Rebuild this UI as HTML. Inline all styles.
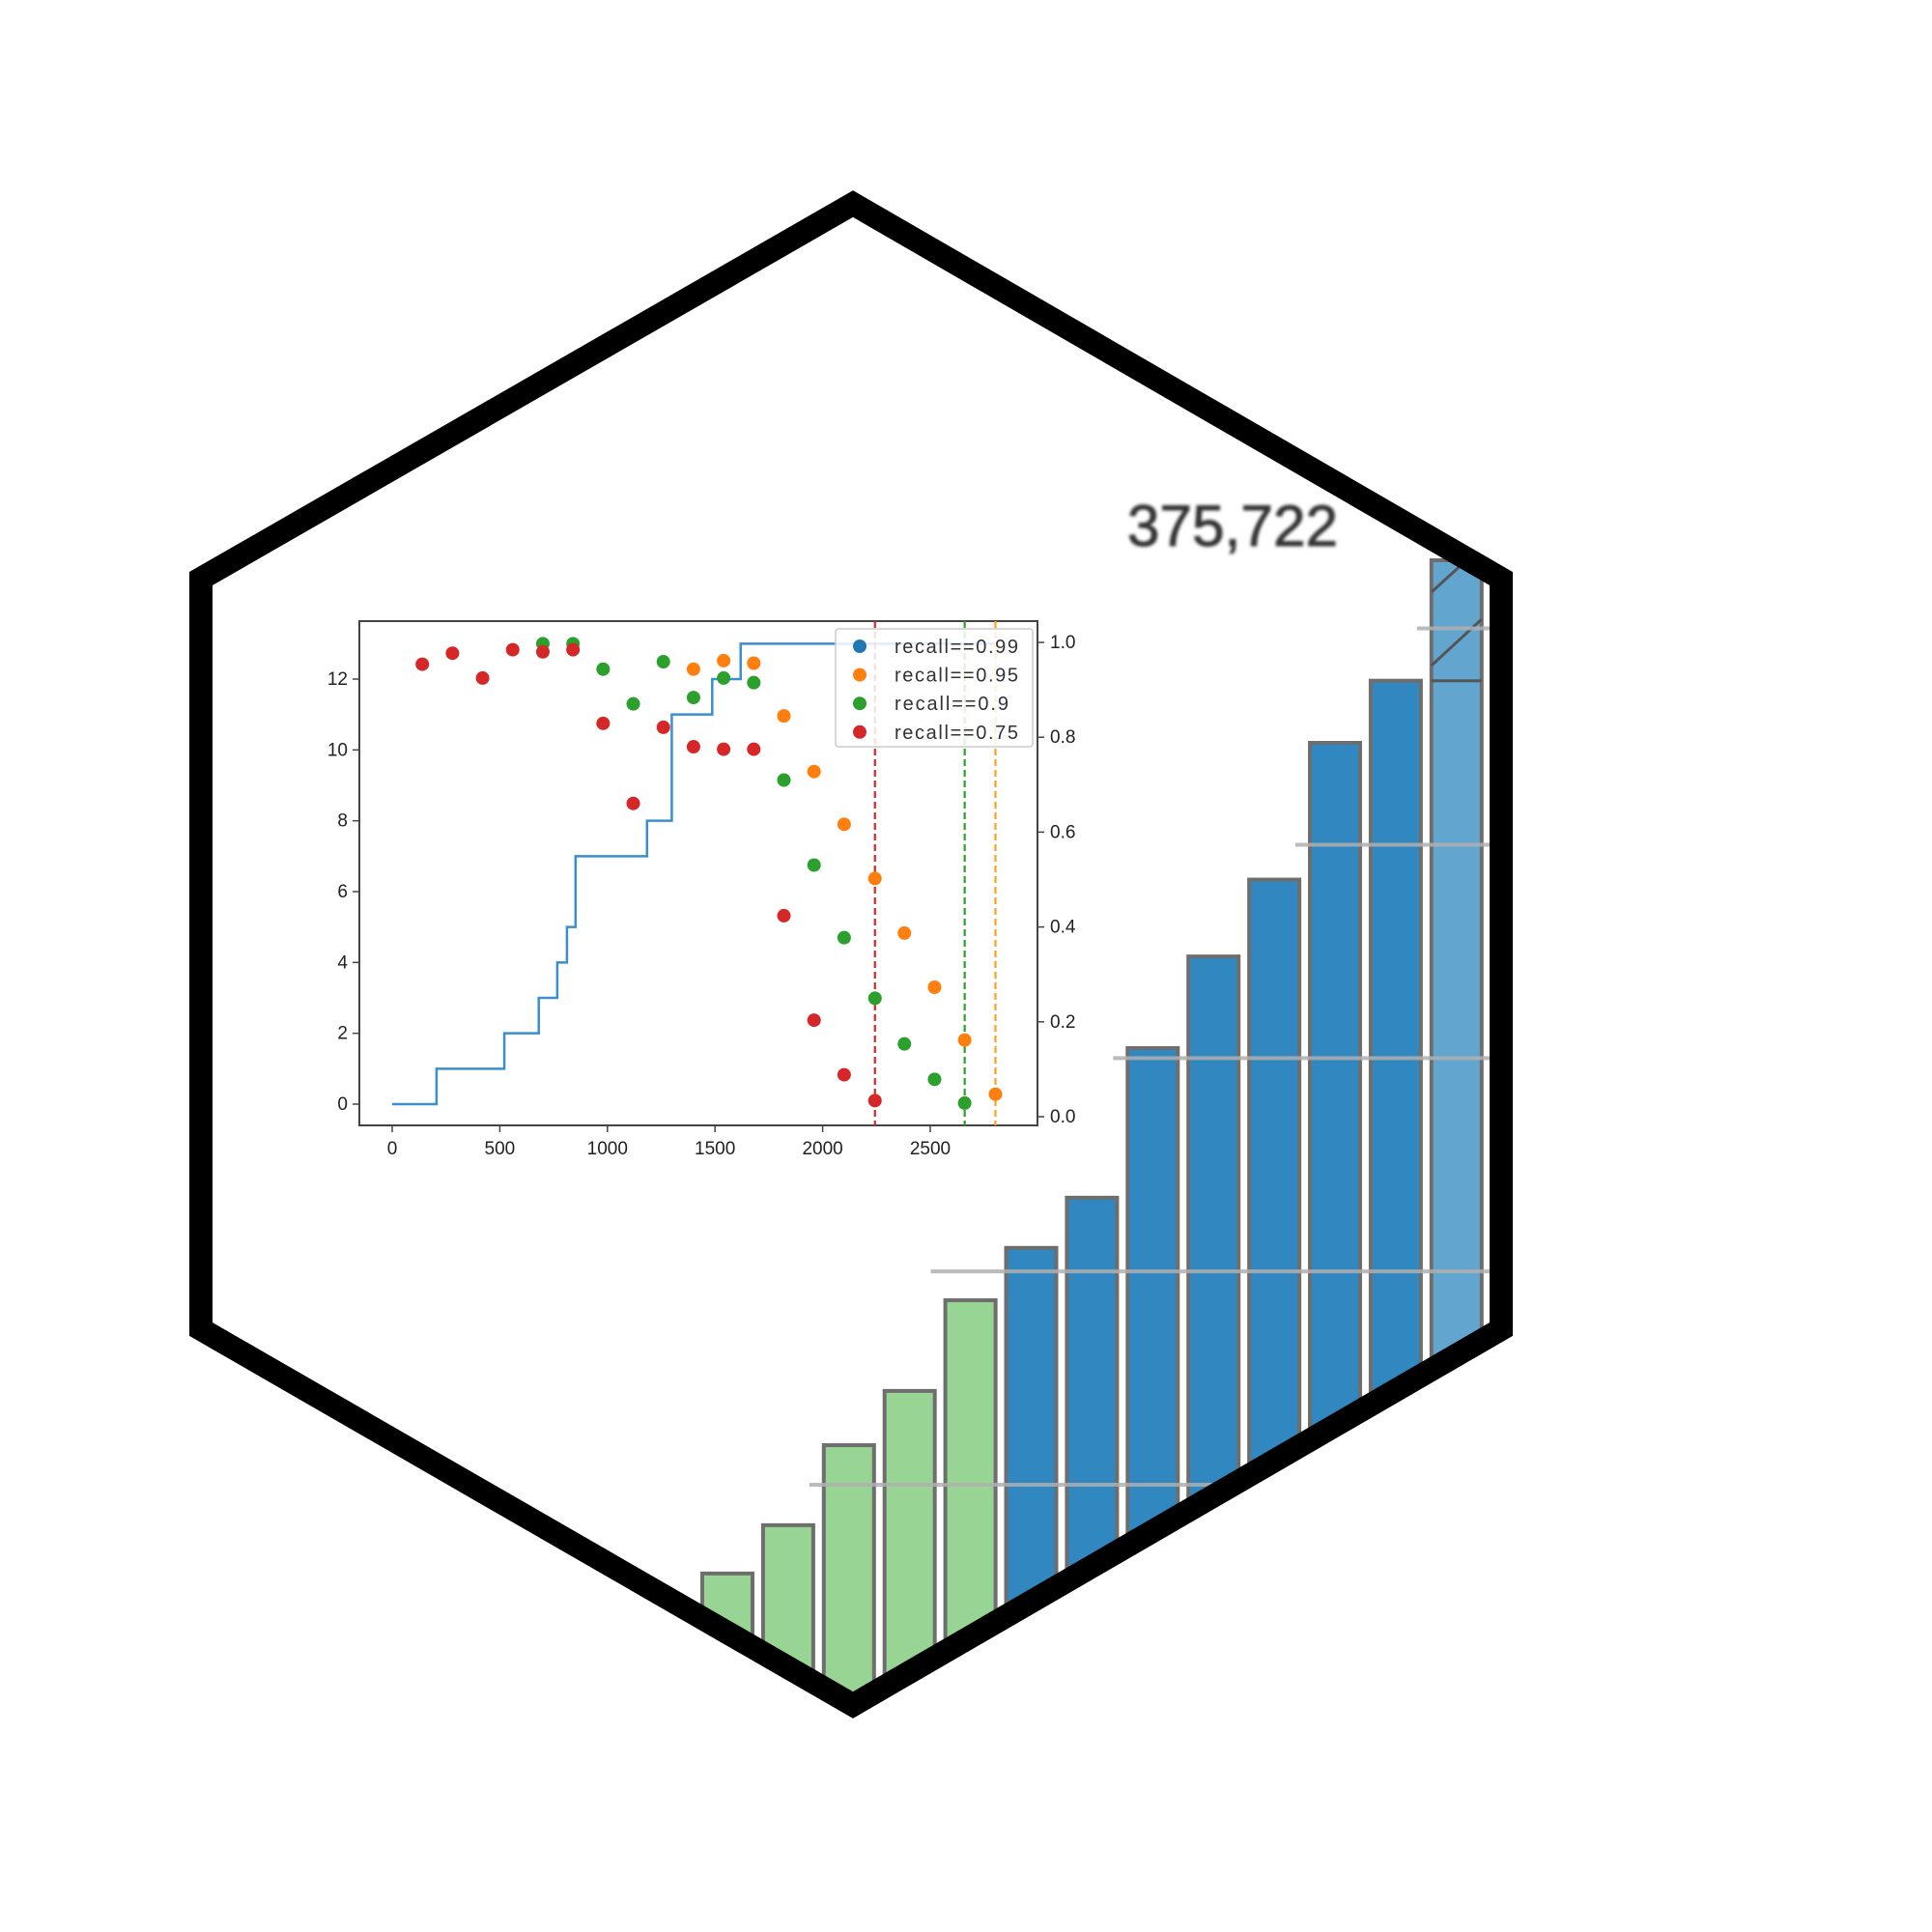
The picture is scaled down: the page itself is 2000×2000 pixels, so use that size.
<!DOCTYPE html>
<html><head><meta charset="utf-8"><style>
html,body{margin:0;padding:0;background:#fff;}
svg{display:block;}
text{font-family:"Liberation Sans","DejaVu Sans",sans-serif;}
</style></head>
<body>
<svg id="root" width="2000" height="2000" viewBox="0 0 2000 2000" xmlns="http://www.w3.org/2000/svg">
<defs>
<clipPath id="hexclip"><polygon points="883,211 1542,592 1542,1376 883,1765 208,1376 208,599"/></clipPath>
<filter id="blur1"><feGaussianBlur stdDeviation="1.5"/></filter>
</defs>
<g id="bars" clip-path="url(#hexclip)"></g>
<g id="inset"></g>
<text x="1167" y="565" font-size="60" fill="#333" stroke="#333" stroke-width="1" textLength="218" filter="url(#blur1)">375,722</text>
<polygon points="883,211 1554,599 1554,1376 883,1765 208,1376 208,599" fill="none" stroke="#000" stroke-width="24"/>
</svg>
<script>
// ---- bar chart data ----
const barValues = [52.7, 68.1, 93.6, 110.9, 139.8, 156.5, 172.5, 220.2, 249.4, 273.9, 317.5, 337.3, 375.7];
const barGroups = ['green','green','green','green','green','blue','blue','blue','blue','blue','blue','blue','light'];
const gridValues = [81, 149, 217, 285, 354];

// ---- inset chart data ----
const stepX = [0, 206, 521, 681, 767, 812, 852, 1184, 1299, 1487, 1619, 2800];
const stepY = [0, 1, 2, 3, 4, 5, 7, 8, 11, 12, 13, 13];
const redX = [140,280,420,560,700,840,980,1120,1260,1400,1540,1680,1820,1960,2100,2243];
const redY = [12.42,12.73,12.03,12.83,12.77,12.83,10.75,8.49,10.64,10.09,10.02,10.02,5.32,2.37,0.83,0.10];
const greenX = [700,840,980,1120,1260,1400,1540,1680,1820,1960,2100,2243,2380,2520,2660];
const greenY = [13.0,13.0,12.28,11.30,12.49,11.48,12.03,11.9,9.15,6.75,4.70,2.99,1.70,0.70,0.03];
const orangeX = [1400,1540,1680,1820,1960,2100,2243,2380,2520,2660,2803];
const orangeY = [12.28,12.52,12.45,10.96,9.39,7.90,6.37,4.83,3.30,1.81,0.28];
const vlineX = [2243, 2660, 2803];
const vlineColors = ['#d62728','#2ca02c','#ffa020'];
const xTicks = [0, 500, 1000, 1500, 2000, 2500];
const yTicks = [0, 2, 4, 6, 8, 10, 12];
const y2Ticks = [0.0, 0.2, 0.4, 0.6, 0.8, 1.0];
const legendLabels = ['recall==0.99','recall==0.95','recall==0.9','recall==0.75'];
const legendColors = ['#1f77b4','#ff7f0e','#2ca02c','#d62728'];

const NS = 'http://www.w3.org/2000/svg';
function mk(tag, attrs, parent){const e=document.createElementNS(NS,tag);for(const k in attrs)e.setAttribute(k,attrs[k]);parent.appendChild(e);return e;}

// ---- bars ----
const bars = document.getElementById('bars');
const bx = i => 727 + i*62.9;
const by = v => 1800 - v*(1220/375.7);
const fills = {green:'#98d594', blue:'#3187c0', light:'#62a5cf'};
barValues.forEach((v,i)=>{
  const r = mk('rect',{x:bx(i),y:by(v),width:52,height:1900-by(v),fill:fills[barGroups[i]],stroke:'#6e6e6e','stroke-width':4},bars);
  
  
});
// hatch on last bar
const li = barValues.length-1, lx = bx(li), ly = by(barValues[li]);
const h1 = mk('line',{x1:lx,y1:ly+33,x2:lx+33,y2:ly+3,stroke:'#555','stroke-width':3},bars);


const h2 = mk('line',{x1:lx,y1:ly+109,x2:lx+52,y2:ly+61,stroke:'#555','stroke-width':3},bars);


const h3 = mk('line',{x1:lx,y1:by(barValues[li-1]),x2:lx+52,y2:by(barValues[li-1]),stroke:'#555','stroke-width':3},bars);


// grid lines
gridValues.forEach((g,i)=>{
  const y = by(g);
  let x0 = 0;
  for(let j=0;j<barValues.length;j++){ if(barValues[j] >= g-10){ x0 = bx(j)-15; break; } }
  const l = mk('line',{x1:x0,y1:y,x2:1545,y2:y,stroke:'#b0b0b0','stroke-width':4,opacity:0.85},bars);
  
  
});

// ---- inset ----
const g = document.getElementById('inset');
const L=372,T=643,R=1074,B=1165;
const sx = v => 406 + v*(557/2500);
const sy = v => 1143 - v*(440/12);
const sy2 = v => 1156 - v*(1156-665);
const bg = mk('rect',{x:L,y:T,width:R-L,height:B-T,fill:'#fff',stroke:'#444','stroke-width':2},g);


xTicks.forEach(t=>{
  mk('line',{x1:sx(t),y1:B,x2:sx(t),y2:B+7,stroke:'#444','stroke-width':1.5},g);
  const tx = mk('text',{x:sx(t),y:B+30,'font-size':19,fill:'#222','text-anchor':'middle'},g);
  tx.textContent = t;
  
  
});
yTicks.forEach(t=>{
  mk('line',{x1:L-7,y1:sy(t),x2:L,y2:sy(t),stroke:'#444','stroke-width':1.5},g);
  const tx = mk('text',{x:L-12,y:sy(t)+6,'font-size':19,fill:'#222','text-anchor':'end'},g);
  tx.textContent = t;
  
  
});
y2Ticks.forEach(t=>{
  mk('line',{x1:R,y1:sy2(t),x2:R+7,y2:sy2(t),stroke:'#444','stroke-width':1.5},g);
  const tx = mk('text',{x:R+13,y:sy2(t)+6,'font-size':19,fill:'#222'},g);
  tx.textContent = t.toFixed(1);
  
  
});
let d = '';
stepX.forEach((x,i)=>{
  if(i===0) d += 'M'+sx(x)+','+sy(stepY[i]);
  else d += ' L'+sx(x)+','+sy(stepY[i-1])+' L'+sx(x)+','+sy(stepY[i]);
});
const step = mk('path',{d:d,fill:'none',stroke:'#3a8fd0','stroke-width':2.5},g);


vlineX.forEach((x,i)=>{
  const l = mk('line',{x1:sx(x),y1:T,x2:sx(x),y2:B,stroke:vlineColors[i],'stroke-width':2.2,'stroke-dasharray':'7,4'},g);
  
  
});
function scatter(xs, ys, color, name){
  xs.forEach((x,i)=>{
    const c = mk('circle',{cx:sx(x),cy:sy(ys[i]),r:7,fill:color},g);
    
    
  });
}
scatter(orangeX, orangeY, '#ff7f0e', 'point-recall-0.95');
scatter(greenX, greenY, '#2ca02c', 'point-recall-0.9');
scatter(redX, redY, '#d62728', 'point-recall-0.75');
const lg = mk('rect',{x:865,y:651,width:204,height:122,fill:'#fff','fill-opacity':0.85,stroke:'#ccc','stroke-width':1.5,rx:3},g);


legendLabels.forEach((lab,i)=>{
  const y = 669 + i*29.6;
  mk('circle',{cx:890,cy:y,r:7,fill:legendColors[i]},g);
  const t = mk('text',{x:926,y:y+7,'font-size':20,fill:'#333',textLength:(lab.length*10.7).toFixed(0)},g);
  t.textContent = lab;
  
  
});
</script>
</body></html>
